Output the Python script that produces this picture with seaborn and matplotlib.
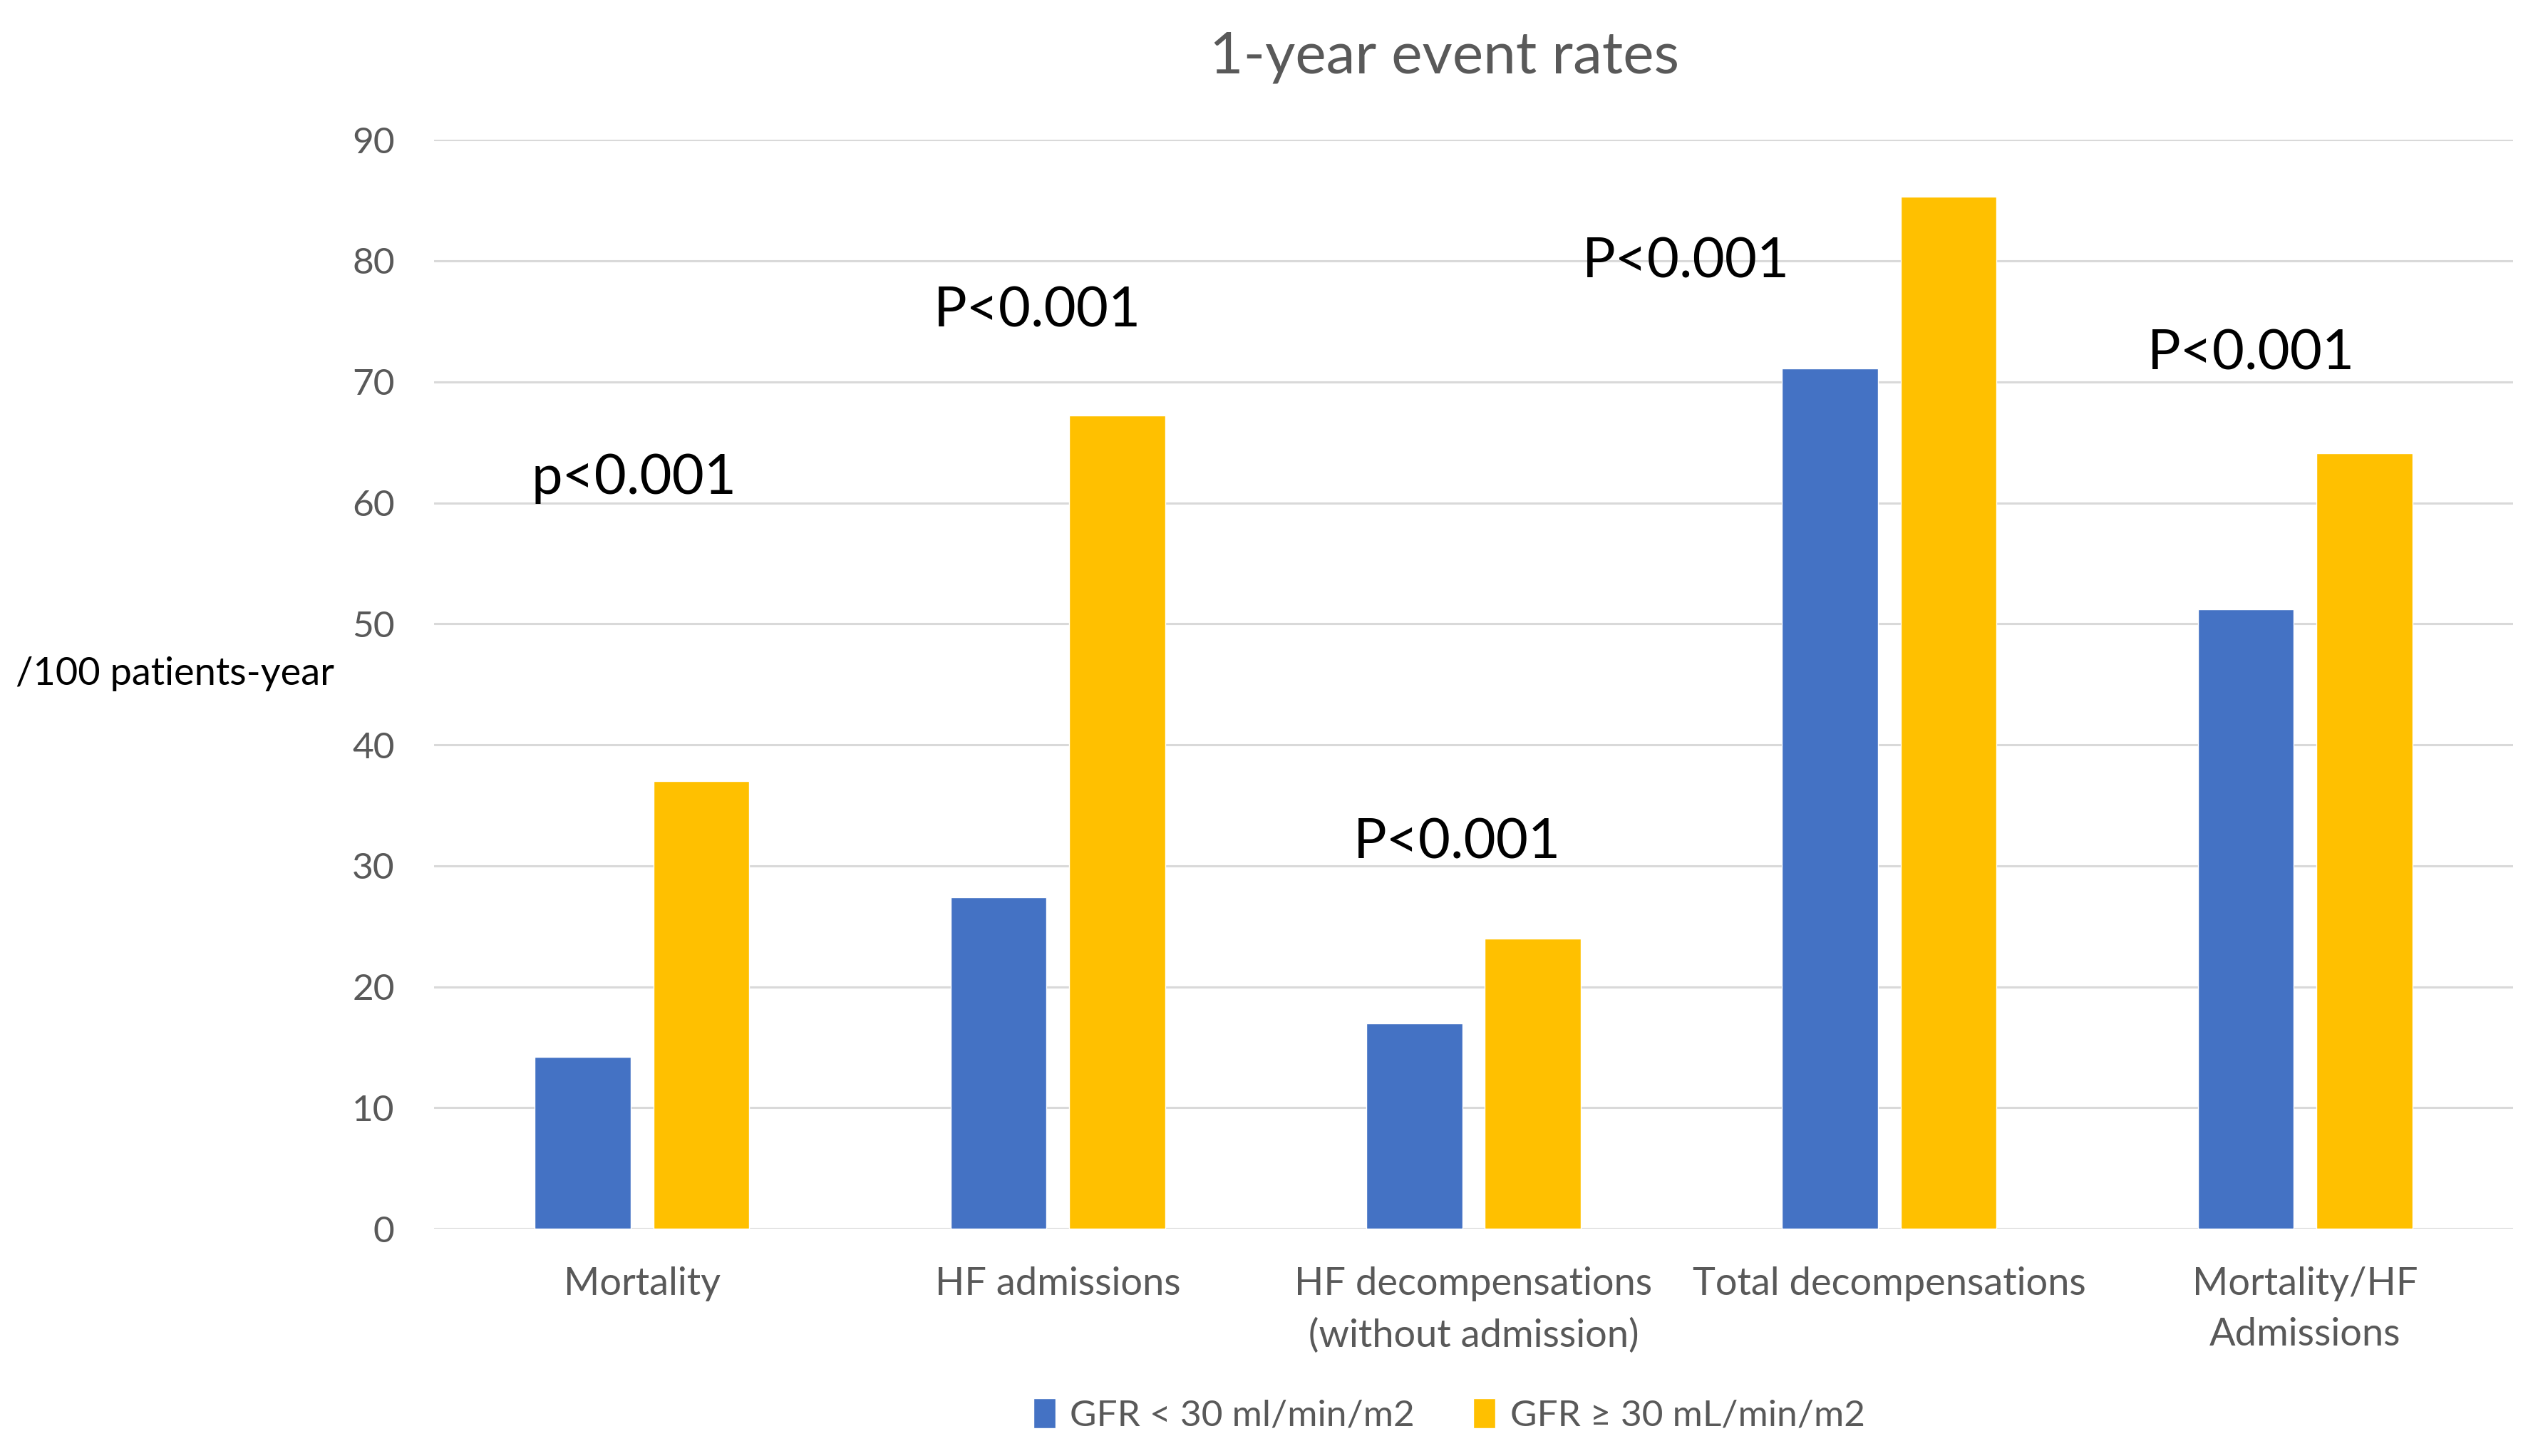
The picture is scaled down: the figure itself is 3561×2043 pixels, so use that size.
import pandas as pd
import matplotlib.pyplot as plt
import seaborn as sns

# DATOS
categorias = ["Mortality", "HF admissions", "HF decompensations\n(without admission)",
              "Total decompensations", "Mortality/HF\nAdmissions"]
grupos = ["GFR < 30 ml/min/m2", "GFR \u2265 30 mL/min/m2"]
gfr_bajo = [14.2, 27.4, 17.0, 71.1, 51.2]
gfr_alto = [37.0, 67.2, 24.0, 85.3, 64.1]
p_textos = ["p<0.001", "P<0.001", "P<0.001", "P<0.001", "P<0.001"]
p_pos = [(-0.02, 62.0), (0.95, 75.8), (1.96, 31.9), (2.51, 79.9), (3.87, 72.3)]

df = pd.DataFrame({
    "categoria": categorias * 2,
    "grupo": [grupos[0]] * 5 + [grupos[1]] * 5,
    "tasa": gfr_bajo + gfr_alto,
})

sns.set_theme(style="white")
plt.rcParams["font.family"] = ["Lato", "DejaVu Sans"]

fig = plt.figure(figsize=(35.61, 20.43), dpi=100)
ax = fig.add_axes([0.1711, 0.156, 0.819, 0.748])

sns.barplot(data=df, x="categoria", y="tasa", hue="grupo", order=categorias,
            hue_order=grupos, palette=["#4472C4", "#FFC000"], width=0.57,
            gap=0.19, saturation=1, ax=ax)

ax.set_xlim(-0.5, 4.5)
ax.set_ylim(0, 90)
ax.set_yticks(range(0, 91, 10))
ax.yaxis.grid(True, color="#D9D9D9", linewidth=2.2)
ax.set_axisbelow(True)
sns.despine(ax=ax, left=True, bottom=True)
ax.tick_params(axis="x", length=0, pad=38, labelsize=39, labelcolor="#595959")
ax.tick_params(axis="y", length=0, pad=40, labelsize=37, labelcolor="#595959")
for lbl in ax.get_xticklabels():
    lbl.set_linespacing(1.55)
ax.set_xlabel("")
ax.set_ylabel("")

# P valores
for txt, (x, y) in zip(p_textos, p_pos):
    ax.text(x, y, txt, ha="center", va="center", fontsize=56, color="black")

fig.text(0.069, 0.537, "/100 patients-year", ha="center", va="center",
         fontsize=39, color="black")
fig.text(0.569, 0.961, "1-year event rates", ha="center", va="center",
         fontsize=59, color="#595959")

ax.legend(loc="center", bbox_to_anchor=(0.571, 0.028), bbox_transform=fig.transFigure,
          ncol=2, frameon=False, fontsize=37, labelcolor="#595959",
          handlelength=0.6, handleheight=0.9, handletextpad=0.4, columnspacing=1.6)

fig.savefig("out.png", dpi=100)
